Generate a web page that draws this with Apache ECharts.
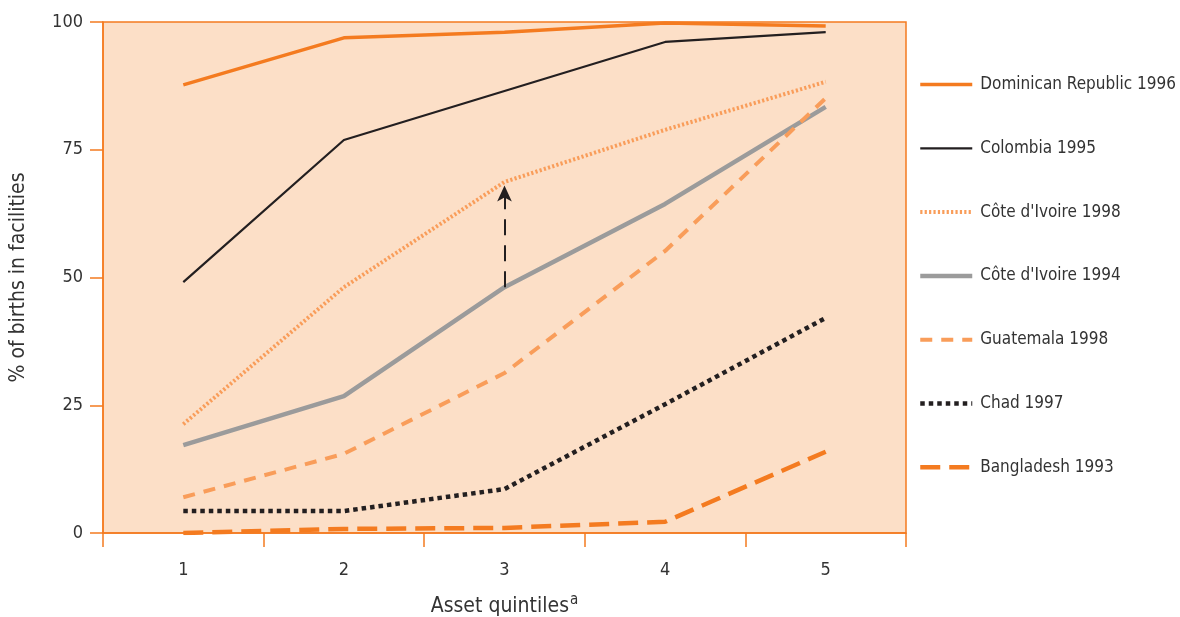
<!DOCTYPE html>
<html><head><meta charset="utf-8">
<script src="https://cdn.jsdelivr.net/npm/echarts@6/dist/echarts.min.js"></script>
<style>html,body{margin:0;padding:0;background:#fff;overflow:hidden}#c{width:1180px;height:617px}</style>
</head><body><div id="c"></div>
<script>
var categories = ['1','2','3','4','5'];
var yTicks = [0,25,50,75,100];
var seriesNames = ['Dominican Republic 1996','Colombia 1995',"Côte d'Ivoire 1998","Côte d'Ivoire 1994",'Guatemala 1998','Chad 1997','Bangladesh 1993'];
var domRep1996 = [87.7, 96.9, 98.0, 99.8, 99.2];
var colombia1995 = [49.1, 76.9, 86.5, 96.1, 98.0];
var civ1998 = [21.3, 48.1, 68.7, 78.9, 88.3];
var civ1994 = [17.2, 26.8, 48.1, 64.4, 83.4];
var guatemala1998 = [7.0, 15.5, 31.3, 55.2, 85.1];
var chad1997 = [4.3, 4.3, 8.6, 25.2, 42.1];
var bangladesh1993 = [0.0, 0.8, 1.0, 2.2, 15.9];
var arrowFrom = 48.1, arrowTo = 68.0, arrowCat = '3';

var ORANGE = '#F47B20', LORANGE = '#F99D5A', BLACK = '#231F20', GRAY = '#9B9B9B';
var FONT = "'DejaVu Sans Condensed', 'Roboto', sans-serif";
var TXT = '#333';

var styles = [
  [ORANGE, 3.5, 'solid'],
  [BLACK, 2.2, 'solid'],
  [LORANGE, 4, [2.2, 2.2]],
  [GRAY, 4.5, 'solid'],
  [LORANGE, 4, [12, 9]],
  [BLACK, 4.5, [4.5, 4]],
  [ORANGE, 4.5, [20, 9]]
];

function mk(i, data, extra) {
  var st = styles[i];
  var s = {
    name: seriesNames[i], type: 'line', data: data, symbol: 'none', smooth: false,
    lineStyle: {color: st[0], width: st[1], type: st[2], cap: 'butt'},
    itemStyle: {color: st[0]},
    emphasis: {disabled: true}, z: 3
  };
  if (extra) for (var k in extra) s[k] = extra[k];
  return s;
}

var chart = echarts.init(document.getElementById('c'), null, {renderer: 'canvas', width: 1180, height: 617});
chart.setOption({
  animation: false,
  backgroundColor: '#fff',
  textStyle: {fontFamily: FONT},
  grid: {left: 103, right: 274, top: 22, bottom: 84, outerBoundsMode: 'none', containLabel: false,
    show: true, backgroundColor: '#FCDFC7', borderColor: ORANGE, borderWidth: 1.5},
  legend: {
    orient: 'vertical', left: 918, top: 76, padding: 0, itemWidth: 52, itemHeight: 18, itemGap: 46.8,
    data: seriesNames.map(function(n, i){
      return {name: n, lineStyle: {color: styles[i][0], width: styles[i][1], type: styles[i][2], cap: 'butt'}};
    }),
    itemStyle: {opacity: 0, borderWidth: 0},
    textStyle: {fontFamily: FONT, fontSize: 17, color: TXT, padding: [0,0,0,3]}
  },
  xAxis: {
    type: 'category', data: categories, boundaryGap: true,
    axisLine: {lineStyle: {color: ORANGE, width: 1.5}},
    axisTick: {show: true, alignWithLabel: false, length: 14, lineStyle: {color: ORANGE, width: 1.5}},
    axisLabel: {fontFamily: FONT, fontSize: 18, color: TXT, margin: 28},
    name: '{n|Asset quintiles}{s|a}', nameLocation: 'middle', nameGap: 60,
    nameTextStyle: {rich: {n: {fontFamily: FONT, fontSize: 21, color: TXT}, s: {fontFamily: FONT, fontSize: 15, color: TXT, verticalAlign: 'bottom', padding: [0,0,13,1]}}}
  },
  yAxis: {
    type: 'value', min: 0, max: 100, interval: 25,
    axisLine: {show: true, lineStyle: {color: ORANGE, width: 1.5}},
    axisTick: {show: true, inside: false, length: 13, lineStyle: {color: ORANGE, width: 1.5}},
    splitLine: {show: false},
    axisLabel: {fontFamily: FONT, fontSize: 18, color: TXT, margin: 20,
      formatter: function(v){ return yTicks.indexOf(v) >= 0 ? String(v) : ''; }},
    name: '% of births in facilities', nameLocation: 'middle', nameGap: 74, nameRotate: 90,
    nameTextStyle: {fontFamily: FONT, fontSize: 21, color: TXT}
  },
  series: [
    mk(0, domRep1996),
    mk(1, colombia1995),
    mk(2, civ1998),
    mk(3, civ1994, {
      markLine: {
        silent: true, symbol: ['none', 'arrow'], symbolSize: [11, 16],
        label: {show: false},
        lineStyle: {color: BLACK, width: 2, type: [16, 10]},
        data: [[{coord: [arrowCat, arrowFrom]}, {coord: [arrowCat, arrowTo]}]]
      }
    }),
    mk(4, guatemala1998),
    mk(5, chad1997),
    mk(6, bangladesh1993)
  ]
});
</script></body></html>
